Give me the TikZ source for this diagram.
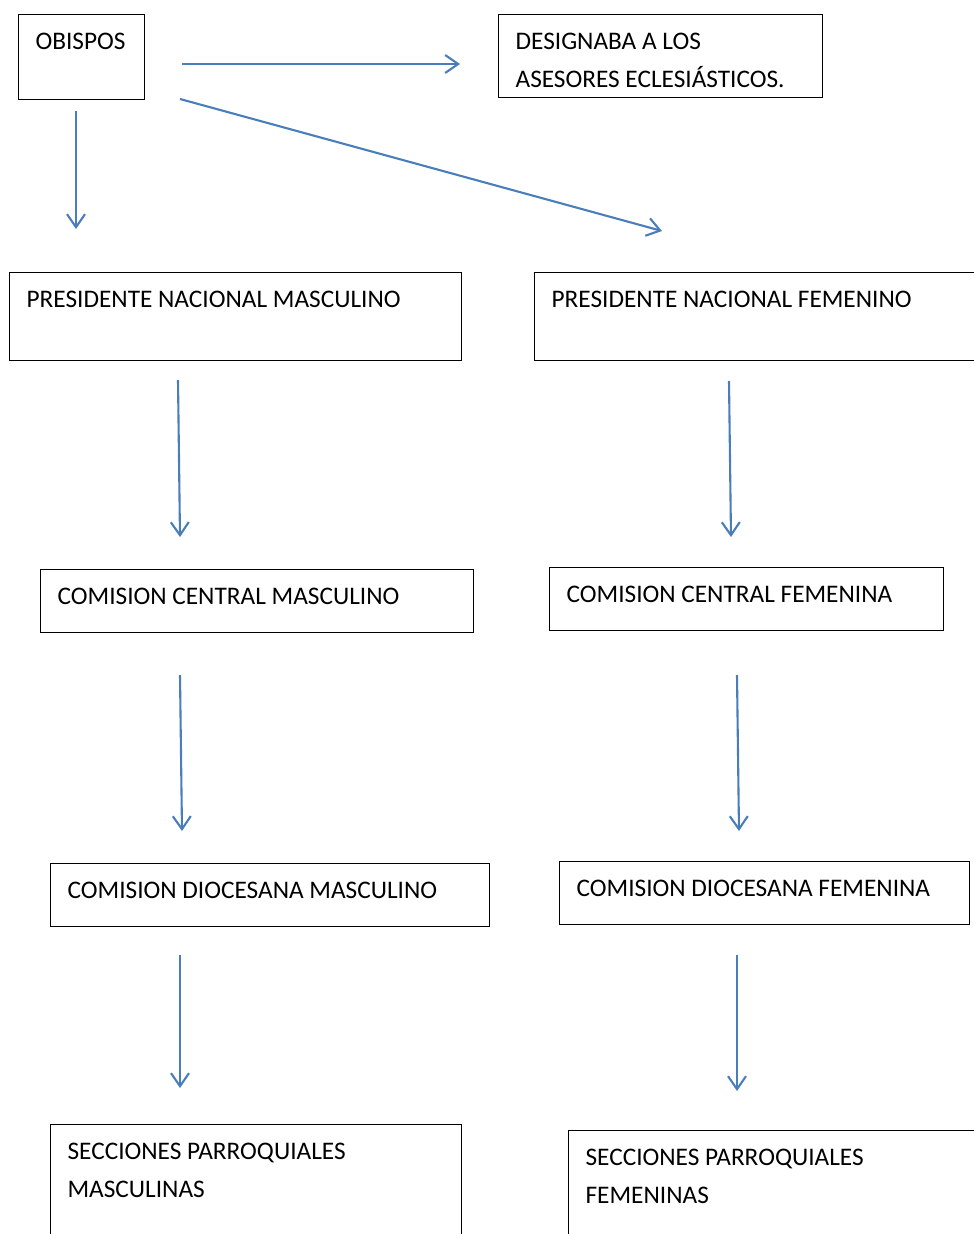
\documentclass[tikz,border=0pt]{standalone}
\usepackage{fontspec}
\setmainfont{Carlito}
\usetikzlibrary{arrows.meta}
\definecolor{arrowblue}{HTML}{4A7EBB}
\newcommand{\boxtext}[3]{\parbox[t][#2][t]{#1}{\raggedright #3}}

\begin{document}
\begin{tikzpicture}[x=1pt,y=-1pt,
	box/.style={draw,line width=1.2pt,anchor=north west,inner xsep=17pt,inner ysep=18pt,font=\fontsize{25.3}{38}\selectfont},
	arr/.style={draw=arrowblue,line width=2.1pt,-{Straight Barb[length=13pt,width=18pt,line width=2.1pt]}}]
			\useasboundingbox (0,0) rectangle (974,1234);
			\clip (0,0) rectangle (974,1234);
			\node[box] (obispos) at (18,14) {\boxtext{92pt}{49pt}{OBISPOS}};
			\node[box] (asesores) at (498,14) {\boxtext{290pt}{47pt}{DESIGNABA A LOS\\ASESORES ECLESIÁSTICOS.}};
			\node[box] (presmasc) at (9,272) {\boxtext{418pt}{52pt}{PRESIDENTE NACIONAL MASCULINO}};
			\node[box] (presfem) at (534,272) {\boxtext{430pt}{52pt}{PRESIDENTE NACIONAL FEMENINO}};
			\node[box] (centmasc) at (40,569) {\boxtext{399pt}{27pt}{COMISION CENTRAL MASCULINO}};
			\node[box] (centfem) at (549,567) {\boxtext{360pt}{27pt}{COMISION CENTRAL FEMENINA}};
			\node[box] (diocmasc) at (50,863) {\boxtext{405pt}{27pt}{COMISION DIOCESANA MASCULINO}};
			\node[box] (diocfem) at (559,861) {\boxtext{376pt}{27pt}{COMISION DIOCESANA FEMENINA}};
			\node[box] (seccmasc) at (50,1124) {\boxtext{377pt}{110pt}{SECCIONES PARROQUIALES\\MASCULINAS}};
			\node[box] (seccfem) at (568,1130) {\boxtext{400pt}{110pt}{SECCIONES PARROQUIALES\\FEMENINAS}};
			\coordinate (a1) at (182,64);
			\coordinate (a2) at (460,64);
			\coordinate (b1) at (180,99);
			\coordinate (b2) at (662,231);
			\coordinate (c1) at (76,111);
			\coordinate (c2) at (76,229);
			\coordinate (d1) at (178,380);
			\coordinate (d2) at (180,537);
			\coordinate (e1) at (729,381);
			\coordinate (e2) at (731,537);
			\coordinate (f1) at (180,675);
			\coordinate (f2) at (182,831);
			\coordinate (g1) at (737,675);
			\coordinate (g2) at (739,831);
			\coordinate (h1) at (180,955);
			\coordinate (h2) at (180,1088);
			\coordinate (i1) at (737,955);
			\coordinate (i2) at (737,1091);
			\draw[arr] (a1) -- (a2);
			\draw[arr] (b1) -- (b2);
			\draw[arr] (c1) -- (c2);
			\draw[arr] (d1) -- (d2);
			\draw[arr] (e1) -- (e2);
			\draw[arr] (f1) -- (f2);
			\draw[arr] (g1) -- (g2);
			\draw[arr] (h1) -- (h2);
			\draw[arr] (i1) -- (i2);
		\end{tikzpicture}
\end{document}
